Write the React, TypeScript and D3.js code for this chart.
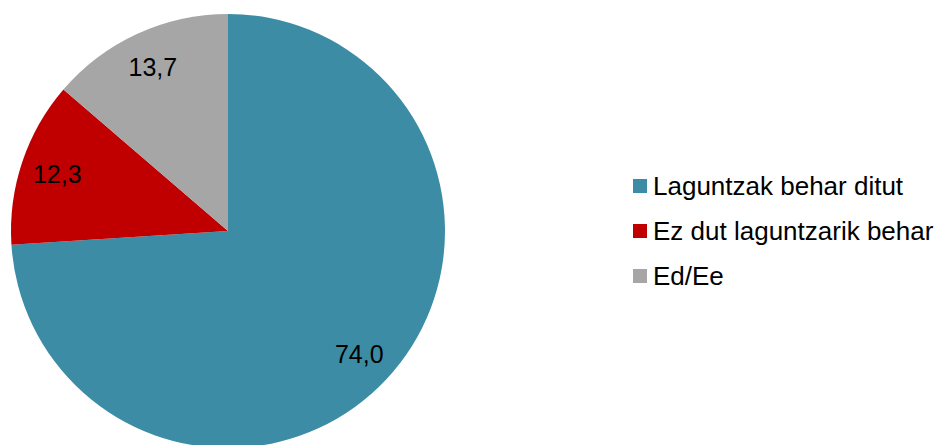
import React from "react";
import * as d3 from "d3";

const categories = ["Laguntzak behar ditut", "Ez dut laguntzarik behar", "Ed/Ee"];
const values = [74.0, 12.3, 13.7];
const colors = ["#3D8CA5", "#C00000", "#A6A6A6"];

const W = 943;
const H = 445;
const cx = 228;
const cy = 231;
const r = 217;

const fmt = (v: number) => v.toFixed(1).replace(".", ",");

export default function App() {
  const pie = d3.pie<number>().sort(null).value((d) => d);
  const arcs = pie(values);
  const arc = d3.arc<d3.PieArcDatum<number>>().innerRadius(0).outerRadius(r);
  const labelArc = d3
    .arc<d3.PieArcDatum<number>>()
    .innerRadius(r * 0.83)
    .outerRadius(r * 0.83);

  const legendY = d3.scalePoint<string>().domain(categories).range([186, 276]);

  return (
    <svg
      width={W}
      height={H}
      style={{ position: "absolute", left: 0, top: 0, background: "#fff", fontFamily: "Liberation Sans, Arial, sans-serif" }}
    >
      <g transform={`translate(${cx},${cy})`}>
        {arcs.map((a, i) => (
          <path key={i} d={arc(a) || ""} fill={colors[i]} />
        ))}
        {arcs.map((a, i) => {
          const [x, y] = labelArc.centroid(a);
          return (
            <text key={i} x={x} y={y + 9} textAnchor="middle" fontSize={25} fill="#000">
              {fmt(values[i])}
            </text>
          );
        })}
      </g>
      <g>
        {categories.map((c, i) => (
          <g key={c} transform={`translate(633,${legendY(c)})`}>
            <rect x={0} y={-7} width={14} height={14} fill={colors[i]} />
            <text x={20} y={9} fontSize={26} fill="#000">
              {c}
            </text>
          </g>
        ))}
      </g>
    </svg>
  );
}
